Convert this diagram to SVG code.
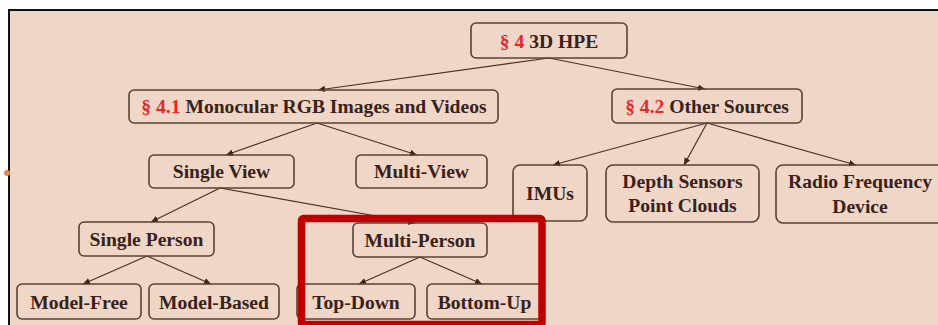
<svg xmlns="http://www.w3.org/2000/svg" width="938" height="325" viewBox="0 0 938 325">
<style>
.box{fill:none;stroke:#5a4136;stroke-width:1.6}
.t{font-family:"Liberation Serif","Times New Roman",serif;font-weight:bold;font-size:19.6px;fill:#38221a;text-anchor:middle}
.r{fill:#e5262c}
.c{stroke:#4a3128;stroke-width:1.2;fill:none;marker-end:url(#ah)}
</style>
<defs>
<marker id="ah" markerUnits="userSpaceOnUse" markerWidth="8" markerHeight="8" viewBox="0 0 8 8" refX="7" refY="4" orient="auto">
<path d="M0,0.8 L7,4 L0,7.2 Z" fill="#3b2419"/>
</marker>
</defs>
<rect x="0" y="0" width="938" height="325" fill="#ffffff"/>
<rect x="9" y="10" width="940" height="330" fill="#efd6c6" stroke="#111111" stroke-width="2"/>
<circle cx="7" cy="173" r="3" fill="#e8894a"/>
<g id="connectors">
<line class="c" x1="549" y1="58" x2="318" y2="90"/>
<line class="c" x1="549" y1="58" x2="705" y2="89"/>
<line class="c" x1="317" y1="123" x2="226" y2="155"/>
<line class="c" x1="317" y1="123" x2="417" y2="155"/>
<line class="c" x1="707" y1="123" x2="553" y2="165"/>
<line class="c" x1="707" y1="123" x2="684" y2="165"/>
<line class="c" x1="707" y1="123" x2="856" y2="165"/>
<line class="c" x1="220" y1="188" x2="151" y2="222"/>
<line class="c" x1="220" y1="188" x2="415" y2="223"/>
<line class="c" x1="147" y1="256" x2="83" y2="284"/>
<line class="c" x1="147" y1="256" x2="211" y2="284"/>
<line class="c" x1="420" y1="257" x2="359" y2="284"/>
<line class="c" x1="420" y1="257" x2="482" y2="284"/>
</g>
<g id="n-3dhpe">
<rect class="box" x="471" y="23" width="156" height="35" rx="5"/>
<text class="t" x="549" y="48"><tspan class="r">§ 4</tspan> 3D HPE</text>
</g>
<g id="n-monocular">
<rect class="box" x="129" y="90" width="369" height="33" rx="5"/>
<text class="t" x="314" y="113"><tspan class="r">§ 4.1</tspan> Monocular RGB Images and Videos</text>
</g>
<g id="n-other">
<rect class="box" x="612" y="89" width="190" height="34" rx="5"/>
<text class="t" x="707" y="113"><tspan class="r">§ 4.2</tspan> Other Sources</text>
</g>
<g id="n-singleview">
<rect class="box" x="149" y="155" width="145" height="33" rx="5"/>
<text class="t" x="221.5" y="178">Single View</text>
</g>
<g id="n-multiview">
<rect class="box" x="356" y="155" width="131" height="33" rx="5"/>
<text class="t" x="421.5" y="178">Multi-View</text>
</g>
<g id="n-imus">
<rect class="box" x="513" y="165" width="74" height="56" rx="7"/>
<text class="t" x="550" y="200">IMUs</text>
</g>
<g id="n-depth">
<rect class="box" x="606" y="165" width="153" height="57" rx="7"/>
<text class="t" x="682.5" y="188">Depth Sensors</text>
<text class="t" x="682.5" y="212">Point Clouds</text>
</g>
<g id="n-radio">
<rect class="box" x="776" y="165" width="170" height="58" rx="7"/>
<text class="t" x="860" y="188">Radio Frequency</text>
<text class="t" x="860" y="213">Device</text>
</g>
<g id="n-singleperson">
<rect class="box" x="79" y="222" width="135" height="34" rx="5"/>
<text class="t" x="146.5" y="245.5">Single Person</text>
</g>
<g id="n-multiperson">
<rect class="box" x="353" y="223" width="134" height="34" rx="5"/>
<text class="t" x="420" y="246.5">Multi-Person</text>
</g>
<g id="n-modelfree">
<rect class="box" x="17" y="284" width="124" height="35" rx="5"/>
<text class="t" x="79" y="308.5">Model-Free</text>
</g>
<g id="n-modelbased">
<rect class="box" x="149" y="284" width="130" height="35" rx="5"/>
<text class="t" x="214" y="308.5">Model-Based</text>
</g>
<g id="n-topdown">
<rect class="box" x="297" y="284" width="118" height="35" rx="5"/>
<text class="t" x="356" y="308.5">Top-Down</text>
</g>
<g id="n-bottomup">
<rect class="box" x="427" y="284" width="115" height="35" rx="5"/>
<text class="t" x="484.5" y="308.5">Bottom-Up</text>
</g>
<g id="highlight">
<rect x="301.5" y="218.5" width="240.5" height="106" rx="2" fill="none" stroke="#c00000" stroke-width="7.5"/>
</g>
</svg>
